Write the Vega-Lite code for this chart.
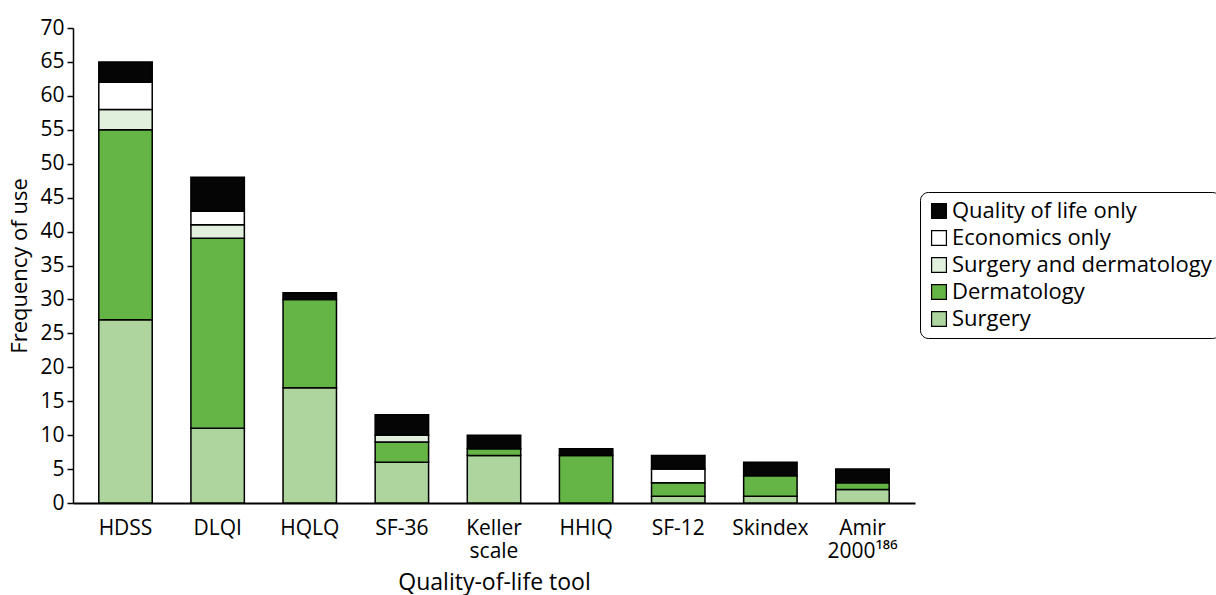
{
  "$schema": "https://vega.github.io/schema/vega-lite/v6.json",
  "width": 842,
  "height": 475,
  "autosize": "none",
  "padding": {"left": 73, "top": 28, "right": 301, "bottom": 92},
  "background": "white",
  "config": {
    "font": "Open Sans",
    "view": {"stroke": null}
  },
  "data": {
    "values": [
      {"tool": "HDSS", "category": "Surgery", "rank": 1, "count": 27},
      {"tool": "HDSS", "category": "Dermatology", "rank": 2, "count": 28},
      {"tool": "HDSS", "category": "Surgery and dermatology", "rank": 3, "count": 3},
      {"tool": "HDSS", "category": "Economics only", "rank": 4, "count": 4},
      {"tool": "HDSS", "category": "Quality of life only", "rank": 5, "count": 3},
      {"tool": "DLQI", "category": "Surgery", "rank": 1, "count": 11},
      {"tool": "DLQI", "category": "Dermatology", "rank": 2, "count": 28},
      {"tool": "DLQI", "category": "Surgery and dermatology", "rank": 3, "count": 2},
      {"tool": "DLQI", "category": "Economics only", "rank": 4, "count": 2},
      {"tool": "DLQI", "category": "Quality of life only", "rank": 5, "count": 5},
      {"tool": "HQLQ", "category": "Surgery", "rank": 1, "count": 17},
      {"tool": "HQLQ", "category": "Dermatology", "rank": 2, "count": 13},
      {"tool": "HQLQ", "category": "Quality of life only", "rank": 5, "count": 1},
      {"tool": "SF-36", "category": "Surgery", "rank": 1, "count": 6},
      {"tool": "SF-36", "category": "Dermatology", "rank": 2, "count": 3},
      {"tool": "SF-36", "category": "Surgery and dermatology", "rank": 3, "count": 1},
      {"tool": "SF-36", "category": "Quality of life only", "rank": 5, "count": 3},
      {"tool": "Keller scale", "category": "Surgery", "rank": 1, "count": 7},
      {"tool": "Keller scale", "category": "Dermatology", "rank": 2, "count": 1},
      {"tool": "Keller scale", "category": "Quality of life only", "rank": 5, "count": 2},
      {"tool": "HHIQ", "category": "Dermatology", "rank": 2, "count": 7},
      {"tool": "HHIQ", "category": "Quality of life only", "rank": 5, "count": 1},
      {"tool": "SF-12", "category": "Surgery", "rank": 1, "count": 1},
      {"tool": "SF-12", "category": "Dermatology", "rank": 2, "count": 2},
      {"tool": "SF-12", "category": "Economics only", "rank": 4, "count": 2},
      {"tool": "SF-12", "category": "Quality of life only", "rank": 5, "count": 2},
      {"tool": "Skindex", "category": "Surgery", "rank": 1, "count": 1},
      {"tool": "Skindex", "category": "Dermatology", "rank": 2, "count": 3},
      {"tool": "Skindex", "category": "Quality of life only", "rank": 5, "count": 2},
      {"tool": "Amir 2000¹⁸⁶", "category": "Surgery", "rank": 1, "count": 2},
      {"tool": "Amir 2000¹⁸⁶", "category": "Dermatology", "rank": 2, "count": 1},
      {"tool": "Amir 2000¹⁸⁶", "category": "Quality of life only", "rank": 5, "count": 2}
    ]
  },
  "mark": {"type": "bar", "stroke": "black", "strokeWidth": 1.5},
  "encoding": {
    "x": {
      "field": "tool",
      "type": "nominal",
      "sort": ["HDSS", "DLQI", "HQLQ", "SF-36", "Keller scale", "HHIQ", "SF-12", "Skindex", "Amir 2000¹⁸⁶"],
      "scale": {"paddingInner": 0.42, "paddingOuter": 0.28},
      "axis": {
        "title": "Quality-of-life tool",
        "titleFontSize": 23,
        "titleFontWeight": "normal",
        "titleColor": "black",
        "titlePadding": 10,
        "labelAngle": 0,
        "labelFontSize": 21,
        "labelColor": "black",
        "labelPadding": 14,
        "labelLineHeight": 23,
        "labelExpr": "split(datum.label, ' ')",
        "labelOverlap": false,
        "ticks": false,
        "domainColor": "black",
        "domainWidth": 2
      }
    },
    "y": {
      "field": "count",
      "type": "quantitative",
      "aggregate": "sum",
      "stack": "zero",
      "scale": {"domain": [0, 70]},
      "axis": {
        "title": "Frequency of use",
        "titleFontSize": 22,
        "titleFontWeight": "normal",
        "titleColor": "black",
        "titlePadding": 8,
        "values": [0, 5, 10, 15, 20, 25, 30, 35, 40, 45, 50, 55, 60, 65, 70],
        "labelFontSize": 21,
        "labelColor": "black",
        "labelPadding": 3,
        "tickColor": "black",
        "tickSize": 6,
        "tickWidth": 1.5,
        "domainColor": "black",
        "domainWidth": 1.5,
        "grid": false
      }
    },
    "color": {
      "field": "category",
      "type": "nominal",
      "scale": {
        "domain": ["Quality of life only", "Economics only", "Surgery and dermatology", "Dermatology", "Surgery"],
        "range": ["#050505", "#ffffff", "#e1f0dc", "#64b446", "#aed59e"]
      },
      "legend": {
        "title": null,
        "orient": "none",
        "legendX": 847,
        "legendY": 164,
        "labelFontSize": 22,
        "labelColor": "black",
        "symbolType": "square",
        "symbolSize": 220,
        "symbolStrokeColor": "black",
        "symbolStrokeWidth": 1.2,
        "symbolOpacity": 1,
        "rowPadding": 5,
        "labelOffset": 2,
        "padding": 8,
        "strokeColor": "black",
        "cornerRadius": 8,
        "labelLimit": 400
      }
    },
    "order": {"field": "rank", "type": "quantitative"}
  }
}
